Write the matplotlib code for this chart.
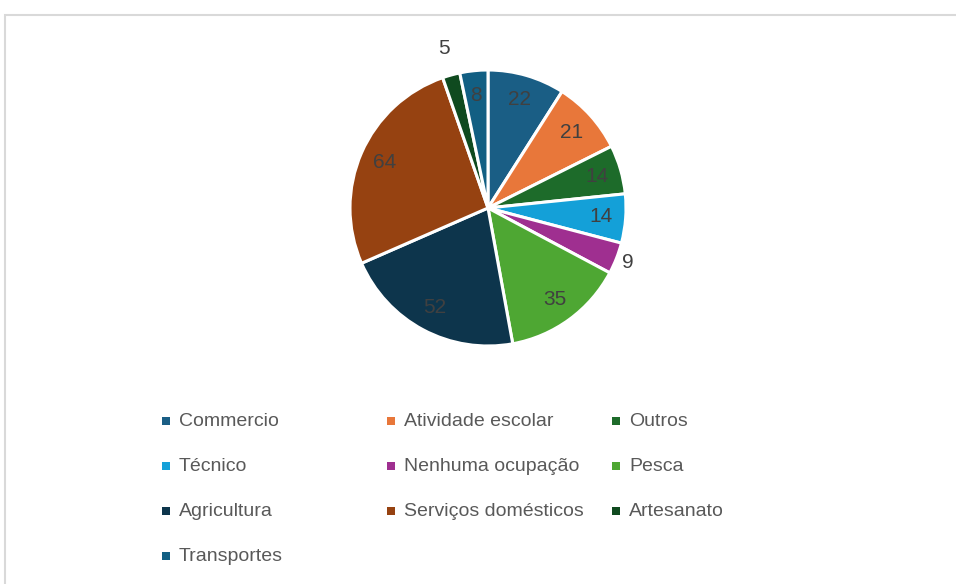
import numpy as np
import matplotlib
matplotlib.use('Agg')
from matplotlib import pyplot as plt
from matplotlib.patches import Rectangle

categories = ['Commercio', 'Atividade escolar', 'Outros', 'Técnico',
              'Nenhuma ocupação', 'Pesca', 'Agricultura',
              'Serviços domésticos', 'Artesanato', 'Transportes']
values = [22, 21, 14, 14, 9, 35, 52, 64, 5, 8]
colors = ['#1a5e85', '#e8773a', '#1d6b2a', '#14a0d8', '#9f2f90',
          '#4ea733', '#0d354c', '#964211', '#0f4a1f', '#125f83']

# labels placed outside the pie (index -> distance from centre)
outside = {4: 1.09, 8: 1.2}

plt.rcParams['font.family'] = ['Liberation Sans', 'DejaVu Sans']

W, H = 956, 584
fig = plt.figure(figsize=(W / 100, H / 100), dpi=100)

# light frame around the chart area
fig.patches.append(Rectangle((5 / W, -0.1), 1.2, 1 - 15 / H + 0.1,
                             transform=fig.transFigure, fill=False,
                             edgecolor='#d9d9d9', linewidth=1.5))

cx, cy, r = 488, 208, 138
side = 2.5 * r
ax = fig.add_axes([(cx - side / 2) / W, 1 - (cy + side / 2) / H, side / W, side / H])
wedges, _ = ax.pie(values, colors=colors, startangle=90, counterclock=False,
                   wedgeprops=dict(edgecolor='white', linewidth=2.2))
ax.set_xlim(-1.25, 1.25)
ax.set_ylim(-1.25, 1.25)

for i, w in enumerate(wedges):
    ang = np.deg2rad((w.theta1 + w.theta2) / 2)
    d = outside.get(i, 0.82)
    ax.text(d * np.cos(ang), d * np.sin(ang), str(values[i]),
            ha='center', va='center', fontsize=15, color='#404040')

# legend, three columns filled row by row (y = text baseline)
col_x = [162, 387, 612]
row_y = [426, 471, 516, 561]
for i, name in enumerate(categories):
    x = col_x[i % 3]
    y = row_y[i // 3]
    fig.patches.append(Rectangle((x / W, 1 - (y - 1) / H), 8 / W, 8 / H,
                                 transform=fig.transFigure,
                                 facecolor=colors[i], edgecolor='none'))
    fig.text((x + 17) / W, 1 - y / H, name, ha='left', va='baseline',
             fontsize=14, color='#595959')

fig.savefig('out.png', dpi=100)
